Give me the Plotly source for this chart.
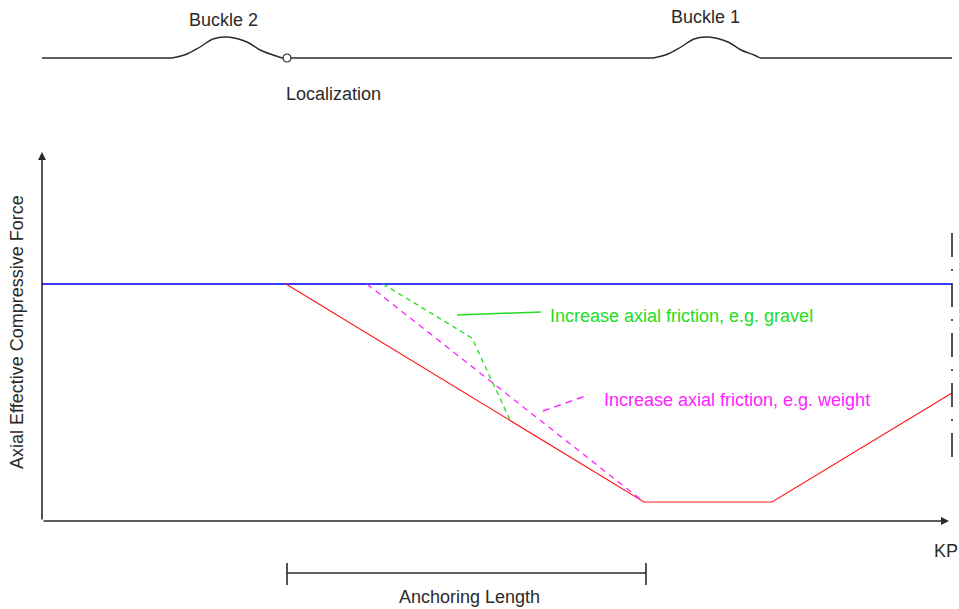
import plotly.graph_objects as go

# ---- Schematic data (drawing units: KP along x, level/force along y, downwards) ----
# Pipe profile (top sketch)
flat_x = [42, 172, None, 282, 653, None, 760, 952]
flat_y = [58, 58, None, 58, 58, None, 58, 58]
buckle2_x = [172, 187, 200, 213, 227, 247, 260, 273, 282]
buckle2_y = [58, 54, 47, 39, 37, 42, 50, 55, 58]
buckle1_x = [653, 668, 681, 694, 708, 728, 741, 754, 760]
buckle1_y = [58, 54, 47, 39, 37, 42, 50, 55, 58]
local_x = [287]
local_y = [58]

# Force diagram
blue_x = [42, 952]
blue_y = [284, 284]
red_x = [286, 644, 772, 952]
red_y = [284, 502, 502, 393]
green_x = [383, 472, 510]
green_y = [284, 338, 420]
magenta_x = [367, 644]
magenta_y = [284, 502]
green_leader_x = [457, 541]
green_leader_y = [315, 312]
magenta_leader_x = [543, 588]
magenta_leader_y = [411, 395]
end_x = [952, 952]
end_y = [233, 457]
anchor_x = [287, 646]
anchor_y = [573, 573]
tick_x = [287, 287, None, 646, 646]
tick_y = [563, 585, None, 563, 585]

labels = {
    "buckle2": ("Buckle 2", 223, 20),
    "buckle1": ("Buckle 1", 705, 17),
    "local": ("Localization", 333, 94),
    "kp": ("KP", 946, 551),
    "anchor": ("Anchoring Length", 469, 597),
}

FONT = "Liberation Sans, Arial, sans-serif"
INK = "#2a2a2a"

fig = go.Figure()

def line(x, y, color, width=1.2, dash="solid", shape="linear"):
    fig.add_trace(go.Scatter(x=x, y=y, mode="lines", hoverinfo="skip",
                             line=dict(color=color, width=width, dash=dash, shape=shape)))

line(flat_x, flat_y, INK, 1.4)
line(buckle2_x, buckle2_y, INK, 1.4, shape="spline")
line(buckle1_x, buckle1_y, INK, 1.4, shape="spline")
fig.add_trace(go.Scatter(x=local_x, y=local_y, mode="markers", hoverinfo="skip",
                         marker=dict(symbol="circle", size=8, color="white",
                                     line=dict(color=INK, width=1.2))))
line(blue_x, blue_y, "#3a3aff", 2)
line(red_x, red_y, "#ff1a1a", 1.2)
line(green_x, green_y, "#22dd22", 1.3, dash="5px,4px")
line(magenta_x, magenta_y, "#ff22ff", 1.3, dash="6px,5px")
line(green_leader_x, green_leader_y, "#22dd22", 1.5)
line(magenta_leader_x, magenta_leader_y, "#ff22ff", 1.5, dash="7px,5px")
line(end_x, end_y, INK, 1.6, dash="24px,12px,2px,12px")
line(anchor_x, anchor_y, INK, 1.6)
line(tick_x, tick_y, INK, 1.6)

# Axes with arrows
fig.add_annotation(x=42, y=152, ax=42, ay=521, xref="x", yref="y", axref="x", ayref="y",
                   showarrow=True, arrowhead=2, arrowsize=1, arrowwidth=1.6, arrowcolor=INK, text="")
fig.add_annotation(x=949, y=521, ax=42, ay=521, xref="x", yref="y", axref="x", ayref="y",
                   showarrow=True, arrowhead=2, arrowsize=1, arrowwidth=1.6, arrowcolor=INK, text="")

for key, (t, x, y) in labels.items():
    fig.add_annotation(x=x, y=y, text=t, showarrow=False, xanchor="center", yanchor="middle",
                       font=dict(family=FONT, size=18, color=INK))

fig.add_annotation(x=548, y=316, text="Increase axial friction, e.g. gravel", showarrow=False,
                   xanchor="left", yanchor="middle", font=dict(family=FONT, size=18, color="#22dd22"))
fig.add_annotation(x=602, y=400, text="Increase axial friction, e.g. weight", showarrow=False,
                   xanchor="left", yanchor="middle", font=dict(family=FONT, size=18, color="#ff22ff"))
fig.add_annotation(x=17, y=332, text="Axial Effective Compressive Force", showarrow=False,
                   textangle=-90, xanchor="center", yanchor="middle",
                   font=dict(family=FONT, size=18, color=INK))

fig.update_layout(
    width=959, height=609, margin=dict(l=0, r=0, t=0, b=0),
    paper_bgcolor="white", plot_bgcolor="white", showlegend=False,
    xaxis=dict(range=[0, 959], visible=False, fixedrange=True),
    yaxis=dict(range=[609, 0], visible=False, fixedrange=True),
)

fig.write_html("out.html", config={"displayModeBar": False},
               post_script="document.body.style.margin='0';document.body.style.overflow='hidden';")
